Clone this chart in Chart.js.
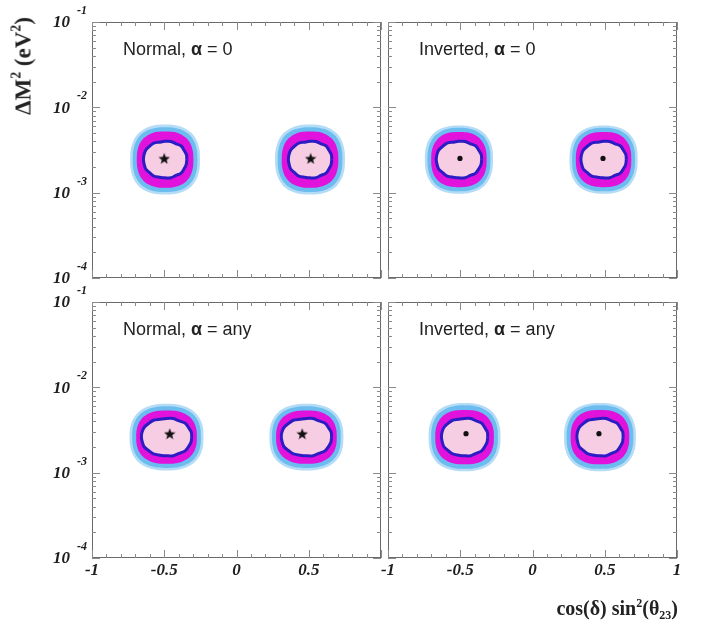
<!DOCTYPE html>
<html>
<head>
<meta charset="utf-8">
<script src="https://cdn.jsdelivr.net/npm/chart.js@4.4.1/dist/chart.umd.min.js"></script>
<style>
html,body{margin:0;padding:0;background:#fff;}
#wrap{position:relative;width:701px;height:629px;overflow:hidden;background:#fff;}
#wrap canvas{position:absolute;left:0;top:0;}
.ytitle{position:absolute;left:25px;top:66px;transform:translate(-50%,-50%) rotate(-90deg);font:bold 23px "Liberation Serif",serif;white-space:nowrap;color:#222;line-height:26px;}
.xtitle{position:absolute;right:23px;top:596px;font:bold 20px "Liberation Serif",serif;white-space:nowrap;color:#222;line-height:24px;}
.sp{font-size:0.6em;position:relative;top:-0.7em;}
.sb{font-size:0.6em;position:relative;top:0.35em;}
</style>
</head>
<body>
<div id="wrap">
  <canvas id="c0" width="701" height="629"></canvas>
  <canvas id="c1" width="701" height="629"></canvas>
  <canvas id="c2" width="701" height="629"></canvas>
  <canvas id="c3" width="701" height="629"></canvas>
  <div class="ytitle">ΔM<span class="sp">2</span> (eV<span class="sp">2</span>)</div>
  <div class="xtitle">cos(δ) sin<span class="sp">2</span>(θ<span class="sb">23</span>)</div>
</div>
<script>
// ---------------- data ----------------
const X_TICK_VALUES = [-1, -0.5, 0, 0.5, 1];
const X_TICK_LABELS = ['-1', '-0.5', '0', '0.5', '1'];
const Y_TICK_VALUES = [1e-4, 1e-3, 1e-2, 1e-1];
const Y_TICK_EXPONENTS = ['-4', '-3', '-2', '-1'];

// panels: 0 top-left, 1 top-right, 2 bottom-left, 3 bottom-right
const HIERARCHIES = ['Normal', 'Inverted', 'Normal', 'Inverted'];
const ALPHA_VALUES = ['0', '0', 'any', 'any'];

// best-fit points
const BEST_FIT_X_LEFT  = [-0.500, -0.502, -0.462, -0.460];
const BEST_FIT_X_RIGHT = [ 0.513,  0.488,  0.455,  0.460];
const BEST_FIT_DM2     = [2.52e-3, 2.52e-3, 2.86e-3, 2.86e-3];

// contour centres
const CONTOUR_X_LEFT  = [-0.494, -0.509, -0.484, -0.470];
const CONTOUR_X_RIGHT = [ 0.509,  0.492,  0.484,  0.467];
const CONTOUR_DM2     = [2.44e-3, 2.44e-3, 2.61e-3, 2.61e-3];

// contour half-widths (x units) and half-heights (decades of dM2)
const HALO_HALF_X      = [0.242, 0.236, 0.256, 0.249];
const HALO_HALF_DEC    = [0.410, 0.400, 0.390, 0.400];
const BLUE_HALF_X      = [0.224, 0.218, 0.238, 0.231];
const BLUE_HALF_DEC    = [0.380, 0.372, 0.362, 0.372];
const MAGENTA_HALF_X   = [0.196, 0.192, 0.210, 0.203];
const MAGENTA_HALF_DEC = [0.330, 0.324, 0.313, 0.319];
const PINK_HALF_X      = [0.150, 0.157, 0.174, 0.160];
const PINK_HALF_DEC    = [0.214, 0.214, 0.219, 0.219];

// unit outline of the outer contours (rounded), 24 points
const OUTLINE_UX = [1, 0.986, 0.913, 0.758, 0.527, 0.264, 0, -0.264, -0.527, -0.758, -0.913, -0.986,
                    -1, -0.986, -0.913, -0.758, -0.527, -0.264, 0, 0.264, 0.527, 0.758, 0.913, 0.986];
const OUTLINE_UY = [0, 0.264, 0.527, 0.758, 0.913, 0.986, 1, 0.986, 0.913, 0.758, 0.527, 0.264,
                    0, -0.264, -0.527, -0.758, -0.913, -0.986, -1, -0.986, -0.913, -0.758, -0.527, -0.264];
// unit outline of the innermost contour (elliptical, slightly wavy)
const INNER_UX = [1, 0.975, 0.885, 0.730, 0.510, 0.262, 0, -0.262, -0.510, -0.730, -0.885, -0.975,
                  -1, -0.975, -0.885, -0.730, -0.510, -0.262, 0, 0.262, 0.510, 0.730, 0.885, 0.975];
const INNER_UY = [0, 0.262, 0.510, 0.730, 0.885, 0.975, 1, 0.975, 0.885, 0.730, 0.510, 0.262,
                  0, -0.262, -0.510, -0.730, -0.885, -0.975, -1, -0.975, -0.885, -0.730, -0.510, -0.262];
const INNER_WAVE = [1, 1.01, 0.99, 1.02, 0.98, 1.02, 1.0, 0.98, 1.02, 0.99, 1.01, 1.0,
                    1, 0.99, 1.01, 0.98, 1.02, 0.99, 1.0, 1.02, 0.98, 1.01, 0.99, 1.0];

// ---------------- layout ----------------
const PANEL_LEFT = [92, 388, 92, 388];
const PANEL_TOP = [22, 22, 302, 302];
const PANEL_W = 289, PANEL_H = 256;
const PAGE_W = 701, PAGE_H = 629;

const COL_HALO = '#b4dcf6';
const COL_BLUE = '#6cbcf0';
const COL_MAGENTA = '#e012dc';
const COL_DARKBLUE = '#2c1cc4';
const COL_PINK = '#f7cde3';

function contour(cx, cdm2, hx, hdec, ux, uy, wave) {
  const pts = [];
  const lc = Math.log10(cdm2);
  for (let k = 0; k <= ux.length; k++) {
    const i = k % ux.length;
    const w = wave ? wave[i] : 1;
    pts.push({x: cx + hx * ux[i] * w, y: Math.pow(10, lc + hdec * uy[i] * w)});
  }
  return pts;
}

function makeStar(size) {
  const c = document.createElement('canvas');
  c.width = size; c.height = size;
  const g = c.getContext('2d');
  g.fillStyle = '#111';
  g.beginPath();
  for (let i = 0; i < 10; i++) {
    const r = i % 2 ? size * 0.21 : size * 0.5;
    const a = -Math.PI / 2 + i * Math.PI / 5;
    g.lineTo(size / 2 + r * Math.cos(a), size / 2 + 0.6 + r * Math.sin(a));
  }
  g.closePath();
  g.fill();
  return c;
}
const STAR = makeStar(12);

const panelDeco = {
  id: 'panelDeco',
  afterDraw(chart, args, o) {
    const ctx = chart.ctx;
    const {left, right, top, bottom} = chart.chartArea;
    const xs = chart.scales.x, ys = chart.scales.y;
    ctx.save();
    ctx.strokeStyle = '#6a6a6a';
    ctx.lineWidth = 1;
    ctx.strokeRect(left + 0.5, top + 0.5, right - left - 1, bottom - top - 1);
    ctx.strokeStyle = '#8a8a8a';
    ctx.beginPath();
    for (let i = -10; i <= 10; i++) {
      const px = Math.round(xs.getPixelForValue(i / 10)) + 0.5;
      const len = (i % 5 === 0) ? 8 : 4;
      ctx.moveTo(px, bottom); ctx.lineTo(px, bottom - len);
      ctx.moveTo(px, top); ctx.lineTo(px, top + len);
    }
    for (let d = -4; d <= -1; d++) {
      for (let m = 1; m <= 9; m++) {
        const v = m * Math.pow(10, d);
        if (v > 0.1 + 1e-12) break;
        const py = Math.round(ys.getPixelForValue(v)) + 0.5;
        const len = (m === 1) ? 8 : 4;
        ctx.moveTo(left, py); ctx.lineTo(left + len, py);
        ctx.moveTo(right, py); ctx.lineTo(right - len, py);
      }
    }
    ctx.stroke();

    ctx.fillStyle = '#1e1e1e';
    ctx.textBaseline = 'middle';
    if (o.showX) {
      ctx.font = 'italic bold 17px "Liberation Serif"';
      ctx.textAlign = 'center';
      X_TICK_VALUES.forEach((v, i) => {
        if (o.skipLastX && i === X_TICK_VALUES.length - 1) return;
        ctx.fillText(X_TICK_LABELS[i], xs.getPixelForValue(v), bottom + 13);
      });
    }
    if (o.showY) {
      Y_TICK_VALUES.forEach((v, i) => {
        const py = ys.getPixelForValue(v);
        ctx.font = 'italic bold 17px "Liberation Serif"';
        ctx.textAlign = 'right';
        ctx.fillText('10', left - 22, py + 1);
        ctx.font = 'italic bold 12px "Liberation Serif"';
        ctx.textAlign = 'left';
        ctx.fillText(Y_TICK_EXPONENTS[i], left - 15, py - 11);
      });
    }
    // panel label
    ctx.textAlign = 'left';
    ctx.fillStyle = '#222';
    let x = left + 31;
    const y = top + 28;
    const parts = [[HIERARCHIES[o.p] + ', ', '18px "Liberation Sans"'], ['α', 'bold 18px "Liberation Sans"'], [' = ' + ALPHA_VALUES[o.p], '18px "Liberation Sans"']];
    parts.forEach(([t, f]) => { ctx.font = f; ctx.fillText(t, x, y); x += ctx.measureText(t).width; });
    ctx.restore();
  }
};

function blobDatasets(p, cx, bx) {
  const c = CONTOUR_DM2[p];
  return [
    {data: contour(cx, c, HALO_HALF_X[p], HALO_HALF_DEC[p], OUTLINE_UX, OUTLINE_UY), backgroundColor: COL_HALO, fill: 'shape', borderWidth: 0, pointRadius: 0, order: 5, tension: 0.3},
    {data: contour(cx, c, BLUE_HALF_X[p], BLUE_HALF_DEC[p], OUTLINE_UX, OUTLINE_UY), backgroundColor: COL_BLUE, fill: 'shape', borderWidth: 0, pointRadius: 0, order: 4, tension: 0.3},
    {data: contour(cx, c, MAGENTA_HALF_X[p], MAGENTA_HALF_DEC[p], OUTLINE_UX, OUTLINE_UY), backgroundColor: COL_MAGENTA, fill: 'shape', borderWidth: 0, pointRadius: 0, order: 3, tension: 0.3},
    {data: contour(cx, c, PINK_HALF_X[p], PINK_HALF_DEC[p], INNER_UX, INNER_UY, INNER_WAVE), backgroundColor: COL_PINK, borderColor: COL_DARKBLUE, borderWidth: 3, fill: 'shape', pointRadius: 0, order: 2, tension: 0.3},
    {data: [{x: bx, y: BEST_FIT_DM2[p]}], showLine: false, order: 0,
     pointStyle: HIERARCHIES[p] === 'Normal' ? STAR : 'circle',
     pointRadius: HIERARCHIES[p] === 'Normal' ? 6 : 2.6,
     pointBackgroundColor: '#111', pointBorderWidth: 0}
  ];
}

for (let p = 0; p < 4; p++) {
  const datasets = [
    ...blobDatasets(p, CONTOUR_X_LEFT[p], BEST_FIT_X_LEFT[p]),
    ...blobDatasets(p, CONTOUR_X_RIGHT[p], BEST_FIT_X_RIGHT[p])
  ];
  new Chart(document.getElementById('c' + p), {
    type: 'line',
    data: {datasets},
    options: {
      responsive: false,
      animation: false,
      events: [],
      layout: {padding: {
        left: PANEL_LEFT[p], top: PANEL_TOP[p],
        right: PAGE_W - PANEL_LEFT[p] - PANEL_W, bottom: PAGE_H - PANEL_TOP[p] - PANEL_H
      }},
      scales: {
        x: {type: 'linear', min: -1, max: 1, display: false},
        y: {type: 'logarithmic', min: 1e-4, max: 1e-1, display: false}
      },
      plugins: {
        legend: {display: false},
        tooltip: {enabled: false},
        panelDeco: {p, showX: p >= 2, showY: p % 2 === 0, skipLastX: p === 2}
      }
    },
    plugins: [panelDeco]
  });
}
</script>
</body>
</html>
